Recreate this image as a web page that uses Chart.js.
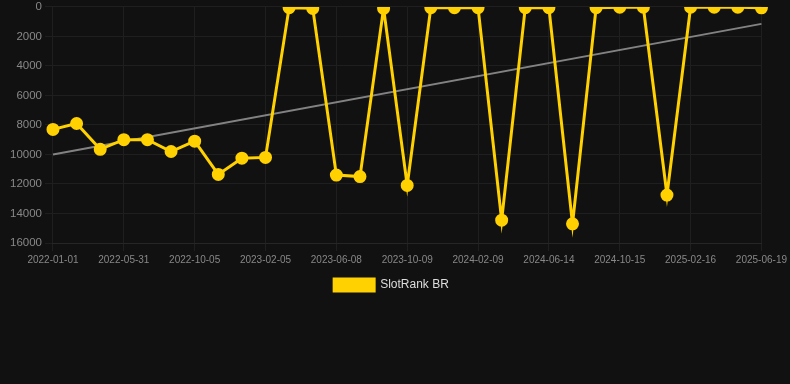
<!DOCTYPE html>
<html lang="en">
<head>
    <meta charset="UTF-8">
    <title>SlotRank BR</title>
    <style>
        html, body { margin: 0; padding: 0; background: #111111; overflow: hidden; }
        #wrap { width: 790px; height: 304px; margin-top: -3px; }
    </style>
</head>
<body>
    <div id="wrap">
        <canvas id="rankChart"></canvas>
    </div>

    <script src="https://cdn.jsdelivr.net/npm/chart.js"></script>

    <script>
        // Dates of each measurement
        const dates = [
            '2022-01-01', '2022-02-19', '2022-04-10', '2022-05-31', '2022-07-12', '2022-08-23',
            '2022-10-05', '2022-11-15', '2022-12-26', '2023-02-05', '2023-03-18', '2023-04-28',
            '2023-06-08', '2023-07-19', '2023-08-29', '2023-10-09', '2023-11-19', '2023-12-30',
            '2024-02-09', '2024-03-21', '2024-05-03', '2024-06-14', '2024-07-25', '2024-09-04',
            '2024-10-15', '2024-11-25', '2025-01-05', '2025-02-16', '2025-03-29', '2025-05-09',
            '2025-06-19'
        ];

        // Rank values
        const rankValues = [
            8300, 7900, 9650, 9000, 9000, 9800,
            9100, 11350, 10250, 10200, 50, 100,
            11400, 11500, 100, 12100, 50, 50,
            50, 14450, 50, 50, 14700, 50,
            20, 20, 12750, 20, 20, 20,
            60
        ];

        // Trend line, only its two ends
        const trendValues = new Array(dates.length).fill(null);
        trendValues[0] = 10000;
        trendValues[dates.length - 1] = 1150;

        const yTicks = [0, 2000, 4000, 6000, 8000, 10000, 12000, 14000, 16000];

        const ctx = document.getElementById('rankChart').getContext('2d');
        const rankChart = new Chart(ctx, {
            type: 'line',
            data: {
                labels: dates,
                datasets: [{
                    label: 'SlotRank BR',
                    data: rankValues,
                    borderColor: '#FFD100',
                    backgroundColor: '#FFD100',
                    borderWidth: 3,
                    borderJoinStyle: 'miter',
                    pointRadius: 5,
                    pointHoverRadius: 6,
                    tension: 0
                }, {
                    label: 'trend',
                    data: trendValues,
                    borderColor: 'rgba(150,150,150,0.85)',
                    borderWidth: 2,
                    pointRadius: 0,
                    spanGaps: true
                }]
            },
            options: {
                responsive: true,
                maintainAspectRatio: false,
                animation: false,
                layout: { padding: { top: 0, right: 14, left: 7 } },
                plugins: {
                    legend: {
                        position: 'bottom',
                        labels: {
                            color: '#dddddd',
                            font: { family: 'Liberation Sans, Arial', size: 12 },
                            boxWidth: 40,
                            boxHeight: 12,
                            filter: item => item.datasetIndex === 0
                        }
                    },
                    tooltip: { enabled: false }
                },
                scales: {
                    x: {
                        grid: { color: '#1f1f1f', tickColor: '#1f1f1f' },
                        border: { color: '#262626' },
                        ticks: {
                            color: '#888888',
                            font: { family: 'Liberation Sans, Arial', size: 10 },
                            maxRotation: 0,
                            autoSkip: true
                        }
                    },
                    y: {
                        reverse: true,
                        min: 0,
                        max: 16000,
                        afterBuildTicks: axis => {
                            axis.ticks = yTicks.map(v => ({ value: v }));
                        },
                        grid: { color: '#1f1f1f' },
                        border: { display: false },
                        ticks: {
                            color: '#888888',
                            font: { family: 'Liberation Sans, Arial', size: 11.5 },
                            callback: v => String(v)
                        }
                    }
                }
            }
        });
    </script>
</body>
</html>
